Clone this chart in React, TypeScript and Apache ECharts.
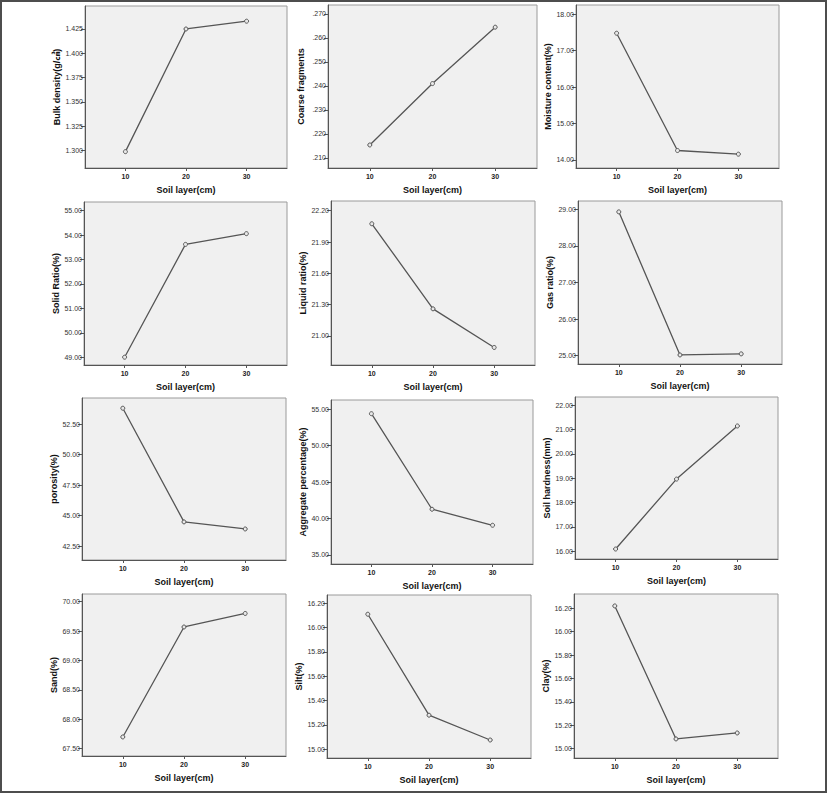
import React, { useEffect, useRef } from "react";
import * as echarts from "echarts";

const soilLayers = [10, 20, 30];

const bulkDensity = [1.299, 1.425, 1.433];
const coarseFragments = [0.2154, 0.241, 0.2645];
const moistureContent = [17.48, 14.26, 14.16];
const solidRatio = [49.0, 53.62, 54.06];
const liquidRatio = [22.075, 21.26, 20.89];
const gasRatio = [28.93, 25.02, 25.05];
const porosity = [53.82, 44.48, 43.9];
const aggregatePercentage = [54.4, 41.28, 39.08];
const soilHardness = [16.09, 18.96, 21.14];
const sand = [67.7, 69.57, 69.8];
const silt = [16.11, 15.28, 15.076];
const clay = [16.22, 15.083, 15.134];

const bulkDensityTicks = [1.3, 1.325, 1.35, 1.375, 1.4, 1.425];
const coarseFragmentsTicks = [0.21, 0.22, 0.23, 0.24, 0.25, 0.26, 0.27];
const moistureTicks = [14, 15, 16, 17, 18];
const solidTicks = [49, 50, 51, 52, 53, 54, 55];
const liquidTicks = [21.0, 21.3, 21.6, 21.9, 22.2];
const gasTicks = [25, 26, 27, 28, 29];
const porosityTicks = [42.5, 45, 47.5, 50, 52.5];
const aggregateTicks = [35, 40, 45, 50, 55];
const hardnessTicks = [16, 17, 18, 19, 20, 21, 22];
const sandTicks = [67.5, 68, 68.5, 69, 69.5, 70];
const siltTicks = [15.0, 15.2, 15.4, 15.6, 15.8, 16.0, 16.2];
const clayTicks = [15.0, 15.2, 15.4, 15.6, 15.8, 16.0, 16.2];

const xTitle = "Soil layer(cm)";

type Panel = {
  title: string;
  values: number[];
  ticks: number[];
  decimals: number;
  leadingZero: boolean;
  yMin: number;
  yMax: number;
  box: [number, number, number, number];
};

const panels: Panel[] = [
  { title: "Bulk density(g/㎤)", values: bulkDensity, ticks: bulkDensityTicks, decimals: 3, leadingZero: true, yMin: 1.2822, yMax: 1.4486, box: [85, 6, 287, 168] },
  { title: "Coarse fragments", values: coarseFragments, ticks: coarseFragmentsTicks, decimals: 3, leadingZero: false, yMin: 0.2058, yMax: 0.27375, box: [328, 5, 537, 168] },
  { title: "Moisture content(%)", values: moistureContent, ticks: moistureTicks, decimals: 2, leadingZero: true, yMin: 13.78, yMax: 18.255, box: [576, 5, 779, 168] },
  { title: "Solid Ratio(%)", values: solidRatio, ticks: solidTicks, decimals: 2, leadingZero: true, yMin: 48.68, yMax: 55.356, box: [84, 202, 287, 365] },
  { title: "Liquid ratio(%)", values: liquidRatio, ticks: liquidTicks, decimals: 2, leadingZero: true, yMin: 20.722, yMax: 22.293, box: [331, 201, 535, 365] },
  { title: "Gas ratio(%)", values: gasRatio, ticks: gasTicks, decimals: 2, leadingZero: true, yMin: 24.773, yMax: 29.227, box: [578, 201, 782, 364] },
  { title: "porosity(%)", values: porosity, ticks: porosityTicks, decimals: 2, leadingZero: true, yMin: 41.35, yMax: 54.66, box: [82, 398, 286, 560] },
  { title: "Aggregate percentage(%)", values: aggregatePercentage, ticks: aggregateTicks, decimals: 2, leadingZero: true, yMin: 33.76, yMax: 56.28, box: [331, 400, 533, 564] },
  { title: "Soil hardness(mm)", values: soilHardness, ticks: hardnessTicks, decimals: 2, leadingZero: true, yMin: 15.68, yMax: 22.33, box: [575, 397, 778, 559] },
  { title: "Sand(%)", values: sand, ticks: sandTicks, decimals: 2, leadingZero: true, yMin: 67.376, yMax: 70.131, box: [82, 594, 286, 756] },
  { title: "Silt(%)", values: silt, ticks: siltTicks, decimals: 2, leadingZero: true, yMin: 14.928, yMax: 16.268, box: [327, 595, 531, 758] },
  { title: "Clay(%)", values: clay, ticks: clayTicks, decimals: 2, leadingZero: true, yMin: 14.92, yMax: 16.322, box: [574, 594, 778, 758] },
];

const FONT = "'Liberation Sans', Arial, 'Noto Sans CJK SC', sans-serif";

export default function App() {
  const ref = useRef<HTMLDivElement>(null);
  useEffect(() => {
    document.body.style.margin = "0";
    if (!ref.current) return;
    const chart = echarts.init(ref.current, null, { renderer: "svg" });
    const grids: any[] = [];
    const xAxes: any[] = [];
    const yAxes: any[] = [];
    const series: any[] = [];
    panels.forEach((p, i) => {
      const [l, t, r, b] = p.box;
      grids.push({
        left: l,
        top: t,
        width: r - l,
        height: b - t,
        show: true,
        backgroundColor: "#f0f0f0",
        borderColor: "#9a9a9a",
        borderWidth: 1,
      });
      xAxes.push({
        type: "value",
        gridIndex: i,
        min: 3.33,
        max: 36.67,
        axisLine: { show: true, onZero: false, lineStyle: { color: "#555", width: 1 } },
        axisTick: { show: true, customValues: soilLayers, length: 3, lineStyle: { color: "#555" } },
        axisLabel: {
          customValues: soilLayers,
          fontSize: 7,
          margin: 5,
          color: "#222",
          fontFamily: FONT,
          fontWeight: "bold",
        },
        splitLine: { show: false },
        name: xTitle,
        nameLocation: "middle",
        nameGap: 17,
        nameTextStyle: { fontSize: 9, fontWeight: "bold", color: "#111", fontFamily: FONT },
      });
      yAxes.push({
        type: "value",
        gridIndex: i,
        min: p.yMin,
        max: p.yMax,
        axisLine: { show: true, onZero: false, lineStyle: { color: "#555", width: 1 } },
        axisTick: { show: true, customValues: p.ticks, length: 4, lineStyle: { color: "#555" } },
        axisLabel: {
          customValues: p.ticks,
          fontSize: 7,
          margin: 2,
          color: "#333",
          fontFamily: FONT,
          formatter: (v: number) => {
            let s = v.toFixed(p.decimals);
            if (!p.leadingZero) s = s.replace(/^0/, "");
            return s;
          },
        },
        splitLine: { show: false },
        name: p.title,
        nameLocation: "middle",
        nameGap: 23,
        nameTextStyle: { fontSize: 9, fontWeight: "bold", color: "#111", fontFamily: FONT },
      });
      series.push({
        type: "line",
        xAxisIndex: i,
        yAxisIndex: i,
        data: soilLayers.map((x, j) => [x, p.values[j]]),
        symbol: "circle",
        symbolSize: 4,
        itemStyle: { color: "#e8e8e8", borderColor: "#555", borderWidth: 1 },
        lineStyle: { color: "#555", width: 1.3 },
      });
    });
    chart.setOption({
      animation: false,
      backgroundColor: "#ffffff",
      grid: grids,
      xAxis: xAxes,
      yAxis: yAxes,
      series,
      graphic: [
        {
          type: "rect",
          shape: { x: 1, y: 1, width: 825, height: 791 },
          style: { fill: "none", stroke: "#4d4d4d", lineWidth: 2 },
          silent: true,
          z: 100,
        },
      ],
    });
    return () => chart.dispose();
  }, []);
  return <div ref={ref} style={{ width: 827, height: 793 }} />;
}
